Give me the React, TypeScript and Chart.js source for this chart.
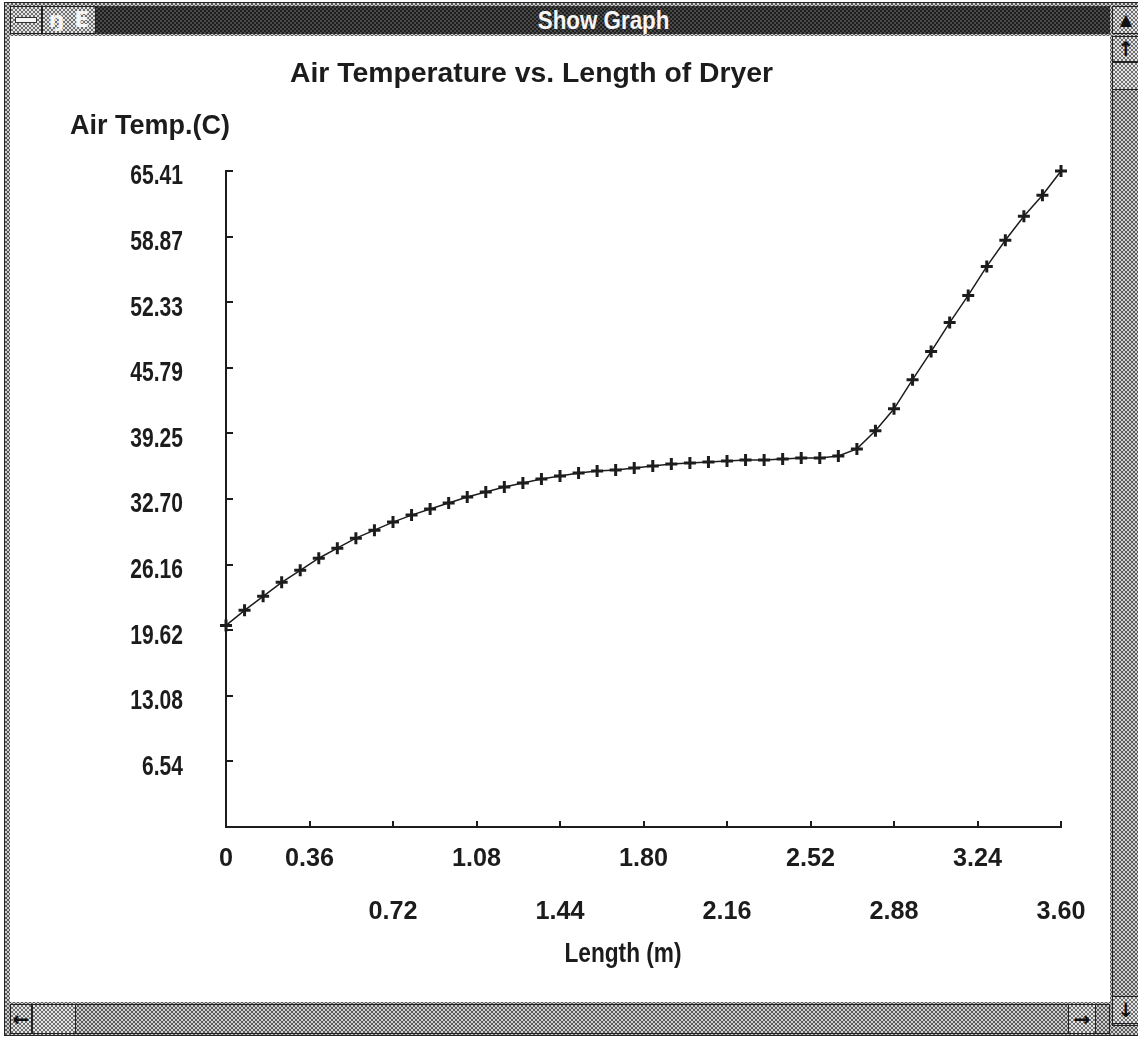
import React, { useEffect, useRef } from 'react';
import { Chart, registerables } from 'chart.js';

Chart.register(...registerables);

// ---- data ----
const lengthM = [
  0.0, 0.08, 0.16, 0.24, 0.32, 0.4, 0.48, 0.56, 0.64, 0.72,
  0.8, 0.88, 0.96, 1.04, 1.12, 1.2, 1.28, 1.36, 1.44, 1.52,
  1.6, 1.68, 1.76, 1.84, 1.92, 2.0, 2.08, 2.16, 2.24, 2.32,
  2.4, 2.48, 2.56, 2.64, 2.72, 2.8, 2.88, 2.96, 3.04, 3.12,
  3.2, 3.28, 3.36, 3.44, 3.52, 3.6,
];
const airTempC = [
  20.1, 21.6, 23.0, 24.4, 25.6, 26.8, 27.8, 28.8, 29.6, 30.4,
  31.1, 31.7, 32.3, 32.9, 33.4, 33.9, 34.3, 34.7, 35.0, 35.3,
  35.5, 35.6, 35.8, 36.0, 36.2, 36.3, 36.4, 36.5, 36.6, 36.6,
  36.7, 36.8, 36.8, 37.0, 37.7, 39.5, 41.7, 44.6, 47.4, 50.3,
  53.0, 55.9, 58.5, 60.9, 63.0, 65.41,
];
const xTickValues = [0, 0.36, 0.72, 1.08, 1.44, 1.8, 2.16, 2.52, 2.88, 3.24, 3.6];
const xTickLabels = ['0', '0.36', '0.72', '1.08', '1.44', '1.80', '2.16', '2.52', '2.88', '3.24', '3.60'];
const yTickValues = [6.54, 13.08, 19.62, 26.16, 32.7, 39.25, 45.79, 52.33, 58.87, 65.41];
const yTickLabels = ['6.54', '13.08', '19.62', '26.16', '32.70', '39.25', '45.79', '52.33', '58.87', '65.41'];

const chartTitle = 'Air Temperature vs. Length of Dryer';
const yAxisTitle = 'Air Temp.(C)';
const xAxisTitle = 'Length (m)';
const windowTitle = 'Show Graph';

const FONT = "'Liberation Sans', Arial, sans-serif";
const INK = '#1c1c1c';

// horizontal squeeze of tick labels per axis (the original used a condensed system font)
const tickSqueeze: Record<string, number> = { x: 0.97, y: 0.78 };

const condensedTicks = {
  id: 'condensedTicks',
  beforeDraw(chart: any) {
    Object.values(chart.scales).forEach((scale: any) => {
      if (scale.__condensed) return;
      scale.__condensed = true;
      const orig = scale.drawLabels.bind(scale);
      scale.drawLabels = (area: any) => {
        const ctx = scale.ctx;
        const sx = tickSqueeze[scale.id] ?? 1;
        const rot = ctx.rotate;
        ctx.rotate = function (a: number) {
          rot.call(this, a);
          this.scale(sx, 1);
        };
        try {
          orig(area);
        } finally {
          ctx.rotate = rot;
        }
      };
    });
  },
};

const innerTicks = {
  id: 'innerTicks',
  afterDraw(chart: any) {
    const { ctx, chartArea } = chart;
    const xs = chart.scales.x;
    const ys = chart.scales.y;
    ctx.save();
    ctx.strokeStyle = INK;
    ctx.lineWidth = 2;
    ctx.beginPath();
    yTickValues.forEach((v) => {
      const py = Math.round(ys.getPixelForValue(v));
      ctx.moveTo(chartArea.left, py);
      ctx.lineTo(chartArea.left + 7, py);
    });
    xTickValues.forEach((v) => {
      const px = Math.round(xs.getPixelForValue(v));
      ctx.moveTo(px, chartArea.bottom);
      ctx.lineTo(px, chartArea.bottom - 6);
    });
    ctx.stroke();
    ctx.restore();
  },
};

function drawSqueezed(ctx: any, text: string, x: number, y: number, sx: number, align: string) {
  ctx.save();
  ctx.translate(x, y);
  ctx.scale(sx, 1);
  ctx.textAlign = align;
  ctx.fillText(text, 0, 0);
  ctx.restore();
}

const textLabels = {
  id: 'textLabels',
  afterDraw(chart: any) {
    const { ctx, chartArea } = chart;
    ctx.save();
    ctx.fillStyle = INK;
    ctx.textBaseline = 'middle';
    ctx.font = `bold 27px ${FONT}`;
    drawSqueezed(ctx, chartTitle, chartArea.left + 64, chartArea.top - 96, 1.05, 'left');
    drawSqueezed(ctx, yAxisTitle, chartArea.left - 156, chartArea.top - 44, 1.0, 'left');
    drawSqueezed(ctx, xAxisTitle, chartArea.left + 397, chartArea.bottom + 128, 0.84, 'center');
    ctx.restore();
  },
};

function GraphChart() {
  const ref = useRef<HTMLCanvasElement | null>(null);
  useEffect(() => {
    if (!ref.current) return;
    const chart = new Chart(ref.current, {
      type: 'line',
      data: {
        datasets: [
          {
            data: lengthM.map((x, i) => ({ x, y: airTempC[i] })),
            borderColor: INK,
            borderWidth: 1.5,
            pointStyle: 'cross',
            pointRadius: 6,
            pointBorderWidth: 3,
            pointBorderColor: INK,
            pointBackgroundColor: INK,
            tension: 0,
            clip: false as any,
          },
        ],
      },
      options: {
        responsive: false,
        animation: false,
        devicePixelRatio: 1,
        layout: { padding: { top: 135, right: 49, bottom: 75, left: 0 } },
        plugins: {
          legend: { display: false },
          tooltip: { enabled: false },
          title: { display: false },
        },
        scales: {
          x: {
            type: 'linear',
            min: 0,
            max: 3.6,
            grid: { display: false, drawTicks: false, tickLength: 0 },
            border: { display: true, color: INK, width: 2 },
            afterBuildTicks: (s: any) => {
              s.ticks = xTickValues.map((v) => ({ value: v }));
            },
            afterFit: (s: any) => {
              s.height = 100;
            },
            ticks: {
              autoSkip: false,
              maxRotation: 0,
              minRotation: 0,
              padding: 5,
              color: INK,
              font: { family: FONT, size: 26, weight: 'bold', lineHeight: 2.05 },
              callback: (_v: any, i: number) =>
                i > 0 && i % 2 === 0 ? ['', xTickLabels[i]] : xTickLabels[i],
            },
          },
          y: {
            type: 'linear',
            min: 0,
            max: 65.41,
            grid: { display: false, drawTicks: false, tickLength: 0 },
            border: { display: true, color: INK, width: 2 },
            afterBuildTicks: (s: any) => {
              s.ticks = yTickValues.map((v) => ({ value: v }));
            },
            afterFit: (s: any) => {
              s.width = 216;
            },
            ticks: {
              autoSkip: false,
              padding: 43,
              color: INK,
              font: { family: FONT, size: 27, weight: 'bold', lineHeight: 0.44 },
              callback: (_v: any, i: number) => ['', yTickLabels[i]],
            },
          },
        },
      } as any,
      plugins: [condensedTicks, innerTicks, textLabels],
    });
    return () => chart.destroy();
  }, []);
  return <canvas ref={ref} width={1100} height={966} style={{ display: 'block' }} />;
}

const lightDither = 'repeating-conic-gradient(#6e6e6e 0% 25%, #e4e4e4 0% 50%) 0 0 / 4px 4px';
const midDither = 'repeating-conic-gradient(#5a5a5a 0% 25%, #cfcfcf 0% 50%) 0 0 / 4px 4px';
const darkDither = 'repeating-conic-gradient(#1e1e1e 0% 25%, #4a4a4a 0% 50%) 0 0 / 4px 4px';

function Box(props: { l: number; t: number; w: number; h: number; bg: string; children?: any; style?: any }) {
  return (
    <div
      style={{
        position: 'absolute',
        left: props.l,
        top: props.t,
        width: props.w,
        height: props.h,
        background: props.bg,
        boxSizing: 'border-box',
        ...(props.style || {}),
      }}
    >
      {props.children}
    </div>
  );
}

const btnStyle = {
  border: '1px solid #222',
  display: 'flex',
  alignItems: 'center',
  justifyContent: 'center',
  color: '#111',
  fontFamily: "'DejaVu Sans', sans-serif",
  fontWeight: 'bold',
  fontSize: 20,
  lineHeight: 1,
};

export default function App() {
  return (
    <div
      style={{
        position: 'fixed',
        left: 0,
        top: 0,
        width: 1138,
        height: 1038,
        background: '#ffffff',
        overflow: 'hidden',
      }}
    >
      {/* outer frame */}
      <Box l={4} t={2} w={1140} h={1034} bg={midDither} style={{ border: '1px solid #222' }} />
      {/* title bar */}
      <Box l={10} t={6} w={1100} h={28} bg={darkDither} />
      <Box l={10} t={6} w={32} h={28} bg={lightDither} style={btnStyle}>
        <div style={{ width: 20, height: 4, background: '#f4f4f4', border: '1px solid #333' }} />
      </Box>
      <Box
        l={42}
        t={6}
        w={54}
        h={28}
        bg={lightDither}
        style={{ ...btnStyle, color: '#f4f4f4', fontSize: 22, gap: 10 }}
      >
        <span>ŋ</span>
        <span>E</span>
      </Box>
      <div
        style={{
          position: 'absolute',
          left: 96,
          top: 6,
          width: 1016,
          height: 28,
          display: 'flex',
          alignItems: 'center',
          justifyContent: 'center',
          color: '#f6f6f6',
          fontFamily: FONT,
          fontWeight: 'bold',
          fontSize: 26,
        }}
      >
        <span style={{ display: 'inline-block', transform: 'scaleX(0.86)' }}>{windowTitle}</span>
      </div>
      <Box l={1112} t={6} w={28} h={28} bg={lightDither} style={{ ...btnStyle, fontSize: 16 }}>
        ▲
      </Box>
      {/* client area */}
      <Box l={10} t={36} w={1100} h={966} bg="#ffffff">
        <GraphChart />
      </Box>
      {/* vertical scrollbar */}
      <Box l={1112} t={36} w={28} h={990} bg={midDither} style={{ border: '1px solid #222' }} />
      <Box l={1112} t={36} w={28} h={26} bg={lightDither} style={btnStyle}>
        ↑
      </Box>
      <Box l={1112} t={62} w={28} h={28} bg={lightDither} style={btnStyle} />
      <Box l={1112} t={996} w={28} h={28} bg={lightDither} style={btnStyle}>
        ↓
      </Box>
      {/* horizontal scrollbar */}
      <Box l={10} t={1004} w={1100} h={30} bg={midDither} style={{ border: '1px solid #222' }} />
      <Box l={10} t={1004} w={22} h={30} bg={lightDither} style={btnStyle}>
        ←
      </Box>
      <Box l={32} t={1004} w={44} h={30} bg={lightDither} style={btnStyle} />
      <Box l={1068} t={1004} w={28} h={30} bg={lightDither} style={btnStyle}>
        →
      </Box>
    </div>
  );
}
